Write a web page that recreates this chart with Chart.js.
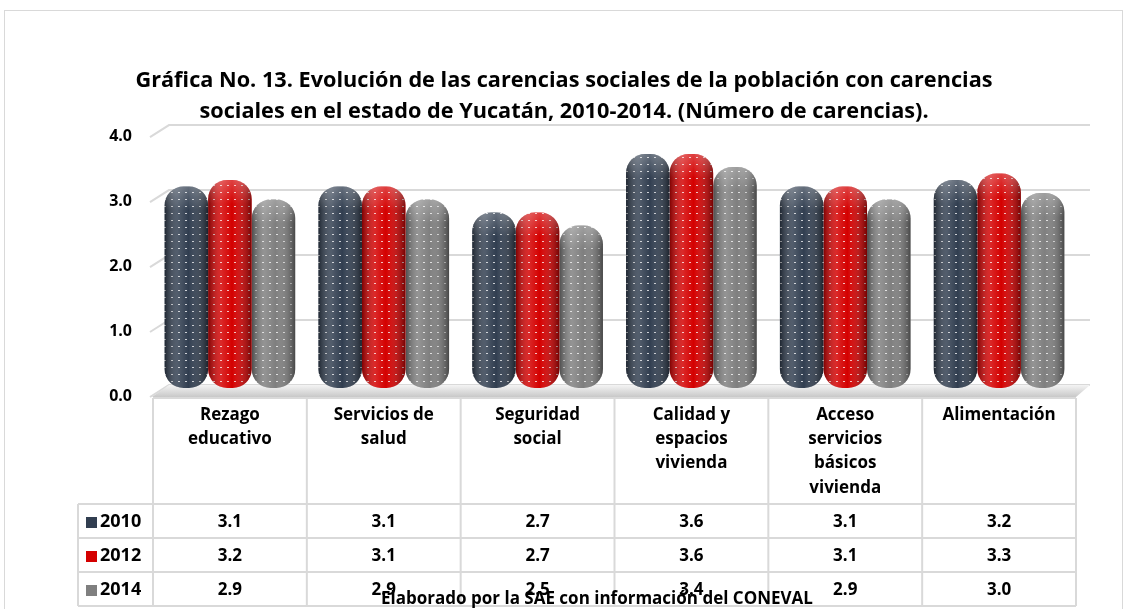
<!DOCTYPE html>
<html>
<head>
<meta charset="utf-8">
<script src="https://cdn.jsdelivr.net/npm/chart.js@4.4.1/dist/chart.umd.min.js"></script>
<style>
  html, body { margin: 0; padding: 0; background: #fff; }
  #wrap { position: relative; width: 1128px; height: 609px; }
  #frame { position: absolute; left: 4px; top: 10px; width: 1119px; height: 620px; border: 1px solid #d9d9d9; box-sizing: border-box; }
  canvas { position: absolute; left: 0; top: 0; }
</style>
</head>
<body>
<div id="wrap">
  <div id="frame"></div>
  <canvas id="carenciasChart" width="1128" height="609"></canvas>
</div>
<script>
// datos
var categorias = [
    ['Rezago', 'educativo'],
    ['Servicios de', 'salud'],
    ['Seguridad', 'social'],
    ['Calidad y', 'espacios', 'vivienda'],
    ['Acceso', 'servicios', 'básicos', 'vivienda'],
    ['Alimentación']
];
var anios = ['2010', '2012', '2014'];
var valores2010 = [3.1, 3.1, 2.7, 3.6, 3.1, 3.2];
var valores2012 = [3.2, 3.1, 2.7, 3.6, 3.1, 3.3];
var valores2014 = [2.9, 2.9, 2.5, 3.4, 2.9, 3.0];
var yTicks = [0, 1, 2, 3, 4];

var colores = ['#313e50', '#d40000', '#7f7f7f'];
var FONT = '"Open Sans", sans-serif';

function makeDots(base)
{
    var c = document.createElement('canvas');
    c.width = 7; c.height = 7;
    var g = c.getContext('2d');
    g.fillStyle = base;
    g.fillRect(0, 0, 7, 7);
    g.fillStyle = 'rgba(255,255,255,0.75)';
    g.fillRect(3, 3, 2, 1);
    return g.createPattern(c, 'repeat');
}

// piso y lineas 3D detras de las barras
var backWall = {
    id: 'backWall',
    beforeDatasetsDraw: function(chart) {
        var ctx = chart.ctx, y = chart.scales.y, a = chart.chartArea;
        ctx.save();
        ctx.strokeStyle = '#d9d9d9';
        ctx.lineWidth = 2;
        yTicks.forEach(function(v) {
            var py = y.getPixelForValue(v);
            ctx.beginPath();
            ctx.moveTo(a.left - 3, py + 9);
            ctx.lineTo(a.left + 16, py - 3);
            ctx.lineTo(a.right + 14, py - 3);
            ctx.stroke();
        });
        // piso
        var p0 = y.getPixelForValue(0);
        var grad = ctx.createLinearGradient(0, p0 - 3, 0, p0 + 9);
        grad.addColorStop(0, '#f4f4f4');
        grad.addColorStop(1, '#c8c8c8');
        ctx.fillStyle = grad;
        ctx.beginPath();
        ctx.moveTo(a.left - 1, p0 + 9);
        ctx.lineTo(a.right, p0 + 9);
        ctx.lineTo(a.right + 14, p0 - 3);
        ctx.lineTo(a.left + 16, p0 - 3);
        ctx.closePath();
        ctx.fill();
        ctx.restore();
    },
    afterDatasetsDraw: function(chart) {
        var ctx = chart.ctx;
        ctx.save();
        chart.data.datasets.forEach(function(ds, di) {
            chart.getDatasetMeta(di).data.forEach(function(bar) {
                var left = bar.x - bar.width / 2, top = bar.y, h = bar.base - bar.y;
                ctx.save();
                ctx.beginPath();
                ctx.roundRect(left, top, bar.width, h, 19);
                ctx.clip();
                var g = ctx.createLinearGradient(left, 0, left + bar.width, 0);
                g.addColorStop(0, 'rgba(0,0,0,0.4)');
                g.addColorStop(0.3, 'rgba(255,255,255,0.16)');
                g.addColorStop(0.55, 'rgba(255,255,255,0)');
                g.addColorStop(1, 'rgba(0,0,0,0.45)');
                ctx.fillStyle = g;
                ctx.fillRect(left, top, bar.width, h);
                var g2 = ctx.createLinearGradient(0, top, 0, top + 24);
                g2.addColorStop(0, 'rgba(255,255,255,0.25)');
                g2.addColorStop(1, 'rgba(255,255,255,0)');
                ctx.fillStyle = g2;
                ctx.fillRect(left, top, bar.width, 24);
                ctx.restore();
            });
        });
        ctx.restore();
    }
};

// tabla de datos bajo el grafico
var dataTable = {
    id: 'dataTable',
    afterDraw: function(chart) {
        var ctx = chart.ctx, x = chart.scales.x;
        var n = categorias.length;
        var w = (x.right - x.left) / n;
        var top = 398, head = 504, rowH = 34, bottom = head + rowH * 3;
        var labelLeft = 78;
        ctx.save();
        ctx.strokeStyle = '#d9d9d9';
        ctx.lineWidth = 2;
        ctx.beginPath();
        ctx.moveTo(x.left, top); ctx.lineTo(x.right, top);
        for (var r = 0; r <= 3; r++) {
            ctx.moveTo(labelLeft, head + r * rowH);
            ctx.lineTo(x.right, head + r * rowH);
        }
        for (var c = 0; c <= n; c++) {
            ctx.moveTo(x.left + c * w, top);
            ctx.lineTo(x.left + c * w, bottom);
        }
        ctx.moveTo(labelLeft, head); ctx.lineTo(labelLeft, bottom);
        ctx.stroke();

        ctx.fillStyle = '#000';
        ctx.textAlign = 'center';
        ctx.textBaseline = 'middle';
        ctx.font = 'bold 17px ' + FONT;
        categorias.forEach(function(lines, i) {
            var cx = x.getPixelForValue(i);
            lines.forEach(function(t, j) {
                ctx.fillText(t, cx, 415 + j * 24.3);
            });
        });

        var series = [valores2010, valores2012, valores2014];
        series.forEach(function(vals, r) {
            var cy = head + r * rowH + rowH / 2 + 1;
            ctx.font = 'bold 17px ' + FONT;
            vals.forEach(function(v, i) {
                ctx.fillText(v.toFixed(1), x.getPixelForValue(i), cy);
            });
            ctx.fillStyle = colores[r];
            ctx.fillRect(86, cy - 5, 11, 11);
            ctx.fillStyle = '#000';
            ctx.textAlign = 'left';
            ctx.font = 'bold 18px ' + FONT;
            ctx.fillText(anios[r], 100, cy);
            ctx.textAlign = 'center';
        });

        ctx.font = 'bold 17px ' + FONT;
        ctx.fillText('Elaborado por la SAE con información del CONEVAL', 597, 599);
        ctx.restore();
    }
};

function initialiseChart()
{
    var data = {
        labels: categorias,
        datasets: [
            { label: anios[0], data: valores2010, backgroundColor: makeDots(colores[0]) },
            { label: anios[1], data: valores2012, backgroundColor: makeDots(colores[1]) },
            { label: anios[2], data: valores2014, backgroundColor: makeDots(colores[2]) }
        ]
    };
    var options = {
        responsive: false,
        animation: false,
        layout: { padding: { left: 52, right: 52, top: 0, bottom: 221 } },
        datasets: {
            bar: {
                categoryPercentage: 0.85,
                barPercentage: 1.0,
                borderRadius: 19,
                borderSkipped: false
            }
        },
        scales: {
            x: { display: false },
            y: {
                min: 0, max: 4,
                afterFit: function(scale) { scale.width = 101; },
                grid: { display: false, drawTicks: false },
                border: { display: false },
                ticks: {
                    stepSize: 1,
                    padding: 21,
                    labelOffset: 8,
                    color: '#000',
                    font: { family: FONT, size: 16, weight: 'bold' },
                    callback: function(v) { return v.toFixed(1); }
                }
            }
        },
        plugins: {
            legend: { display: false },
            tooltip: { enabled: false },
            title: {
                display: true,
                text: ['Gráfica No. 13. Evolución de las carencias sociales de la población con carencias',
                       'sociales en el estado de Yucatán, 2010-2014. (Número de carencias).'],
                color: '#000',
                font: { family: FONT, size: 21.7, weight: 'bold', lineHeight: 1.43 },
                padding: { top: 65, bottom: 1 }
            }
        }
    };
    var ctx = document.getElementById('carenciasChart').getContext('2d');
    return new Chart(ctx, { type: 'bar', data: data, options: options, plugins: [backWall, dataTable] });
}

initialiseChart();
</script>
</body>
</html>
